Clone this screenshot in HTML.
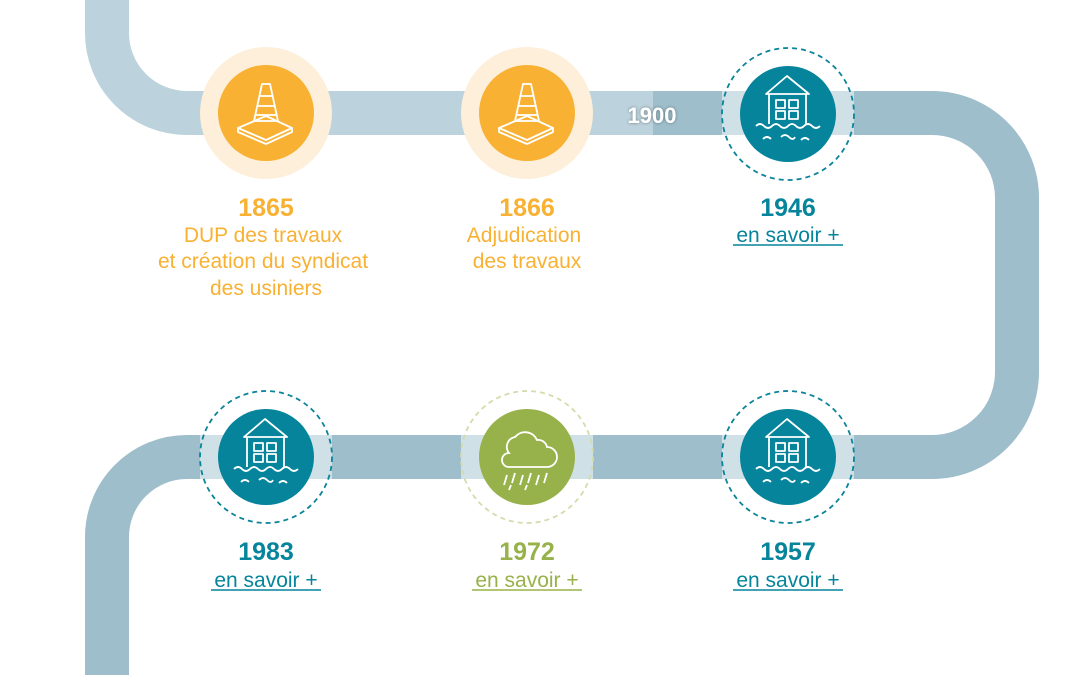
<!DOCTYPE html>
<html><head><meta charset="utf-8"><style>
html,body{margin:0;padding:0;background:#fff;}
svg{display:block;}
text{font-family:"Liberation Sans",sans-serif;text-anchor:middle;}
</style></head><body>
<svg width="1080" height="675" viewBox="0 0 1080 675" xmlns="http://www.w3.org/2000/svg">
<defs>
<filter id="sh" x="-20%" y="-40%" width="140%" height="180%">
<feDropShadow dx="0" dy="0" stdDeviation="1.5" flood-color="#000" flood-opacity="0.4"/>
</filter>
<g id="cone" fill="none" stroke="#fff" stroke-width="1.8" stroke-linejoin="round">
<path d="M-4 -27 H4 L12 10 H-12 Z"/>
<path d="M-7 -15 H7 M-9 -5 H9 M-11 4 H11"/>
<path d="M-28 17 L0 5 L26 17 L0 29 Z"/>
<path d="M-28 17 V21 L0 33 L26 21 V17"/>
</g>
<g id="house" fill="none" stroke="#fff" stroke-width="1.8" stroke-linejoin="round">
<path d="M-22 -24 L-1 -42 L21 -24 Z"/>
<path d="M-19 -24 V6 M18 -24 V6"/>
<rect x="-12" y="-18" width="9" height="8"/><rect x="1" y="-18" width="9" height="8"/>
<rect x="-12" y="-7" width="9" height="8"/><rect x="1" y="-7" width="9" height="8"/>
<path d="M-32 8 q4 -4 8 0 t8 0 t8 0 t8 0 t8 0 t8 0 t8 0 t8 0"/>
<path d="M-25 21 q4 -4 8 0 M-7 19 q4 -4 8 0 t6 0 M13 22 q4 -4 8 0"/>
</g>
</defs>
<!-- path -->
<path d="M107 0 V33 A80 80 0 0 0 187 113 H655" fill="none" stroke="#bcd2dc" stroke-width="44"/>
<path d="M653 113 H932 A85 85 0 0 1 1017 198 V372 A85 85 0 0 1 932 457 H187 A80 80 0 0 0 107 537 V675" fill="none" stroke="#9ebecb" stroke-width="44"/>
<g fill="#cfe0e7">
<rect x="722" y="91" width="132" height="44"/>
<rect x="200" y="435" width="132" height="44"/>
<rect x="461" y="435" width="132" height="44"/>
<rect x="722" y="435" width="132" height="44"/>
</g>
<text x="652" y="123" font-size="22" font-weight="bold" fill="#fff" filter="url(#sh)">1900</text>

<circle cx="266" cy="113" r="66" fill="#fdefd9"/>
<circle cx="266" cy="113" r="48" fill="#f8b133"/>
<use href="#cone" x="266" y="111"/>
<circle cx="527" cy="113" r="66" fill="#fdefd9"/>
<circle cx="527" cy="113" r="48" fill="#f8b133"/>
<use href="#cone" x="527" y="111"/>

<circle cx="788" cy="114" r="66" fill="none" stroke="#0a8499" stroke-width="1.8" stroke-dasharray="5 4"/>
<circle cx="788" cy="114" r="48" fill="#05849b"/>
<use href="#house" x="788" y="118"/>

<circle cx="266" cy="457" r="66" fill="none" stroke="#0a8499" stroke-width="1.8" stroke-dasharray="5 4"/>
<circle cx="266" cy="457" r="48" fill="#05849b"/>
<use href="#house" x="266" y="461"/>

<circle cx="788" cy="457" r="66" fill="none" stroke="#0a8499" stroke-width="1.8" stroke-dasharray="5 4"/>
<circle cx="788" cy="457" r="48" fill="#05849b"/>
<use href="#house" x="788" y="461"/>

<circle cx="527" cy="457" r="66" fill="none" stroke="#d3dcaa" stroke-width="1.8" stroke-dasharray="5 4"/>
<circle cx="527" cy="457" r="48" fill="#97b24a"/>
<g fill="none" stroke="#fff" stroke-width="1.8" transform="translate(527 457)">
<path d="M-18 10 H20 A10 10 0 0 0 20 -10 A9 9 0 0 0 10 -17 A13 13 0 0 0 -12 -20 A10 10 0 0 0 -18 -4 A7 7 0 0 0 -18 10 Z"/>
<path d="M-20 18 l-3 10 M-12 16 l-3 10 M-4 18 l-3 10 M4 16 l-3 10 M12 18 l-3 10 M20 16 l-3 10 M-16 28 l-2 5 M0 28 l-2 5"/>
</g>

<g font-weight="bold" font-size="25">
<text x="266" y="216" fill="#f8b133">1865</text>
<text x="527" y="216" fill="#f8b133">1866</text>
<text x="788" y="216" fill="#05849b">1946</text>
<text x="266" y="560" fill="#05849b">1983</text>
<text x="527" y="560" fill="#97b24a">1972</text>
<text x="788" y="560" fill="#05849b">1957</text>
</g>
<g font-size="21" fill="#f8b133">
<text x="263" y="242">DUP des travaux</text>
<text x="263" y="268">et création du syndicat</text>
<text x="266" y="295">des usiniers</text>
<text x="524" y="242">Adjudication</text>
<text x="527" y="268">des travaux</text>
</g>
<g font-size="21">
<text x="788" y="242" fill="#05849b">en savoir +</text>
<text x="266" y="587" fill="#05849b">en savoir +</text>
<text x="527" y="587" fill="#97b24a">en savoir +</text>
<text x="788" y="587" fill="#05849b">en savoir +</text>
</g>
<g stroke-width="1.5">
<line x1="733" y1="245" x2="843" y2="245" stroke="#05849b"/>
<line x1="211" y1="590" x2="321" y2="590" stroke="#05849b"/>
<line x1="472" y1="590" x2="582" y2="590" stroke="#97b24a"/>
<line x1="733" y1="590" x2="843" y2="590" stroke="#05849b"/>
</g>
</svg>
</body></html>
